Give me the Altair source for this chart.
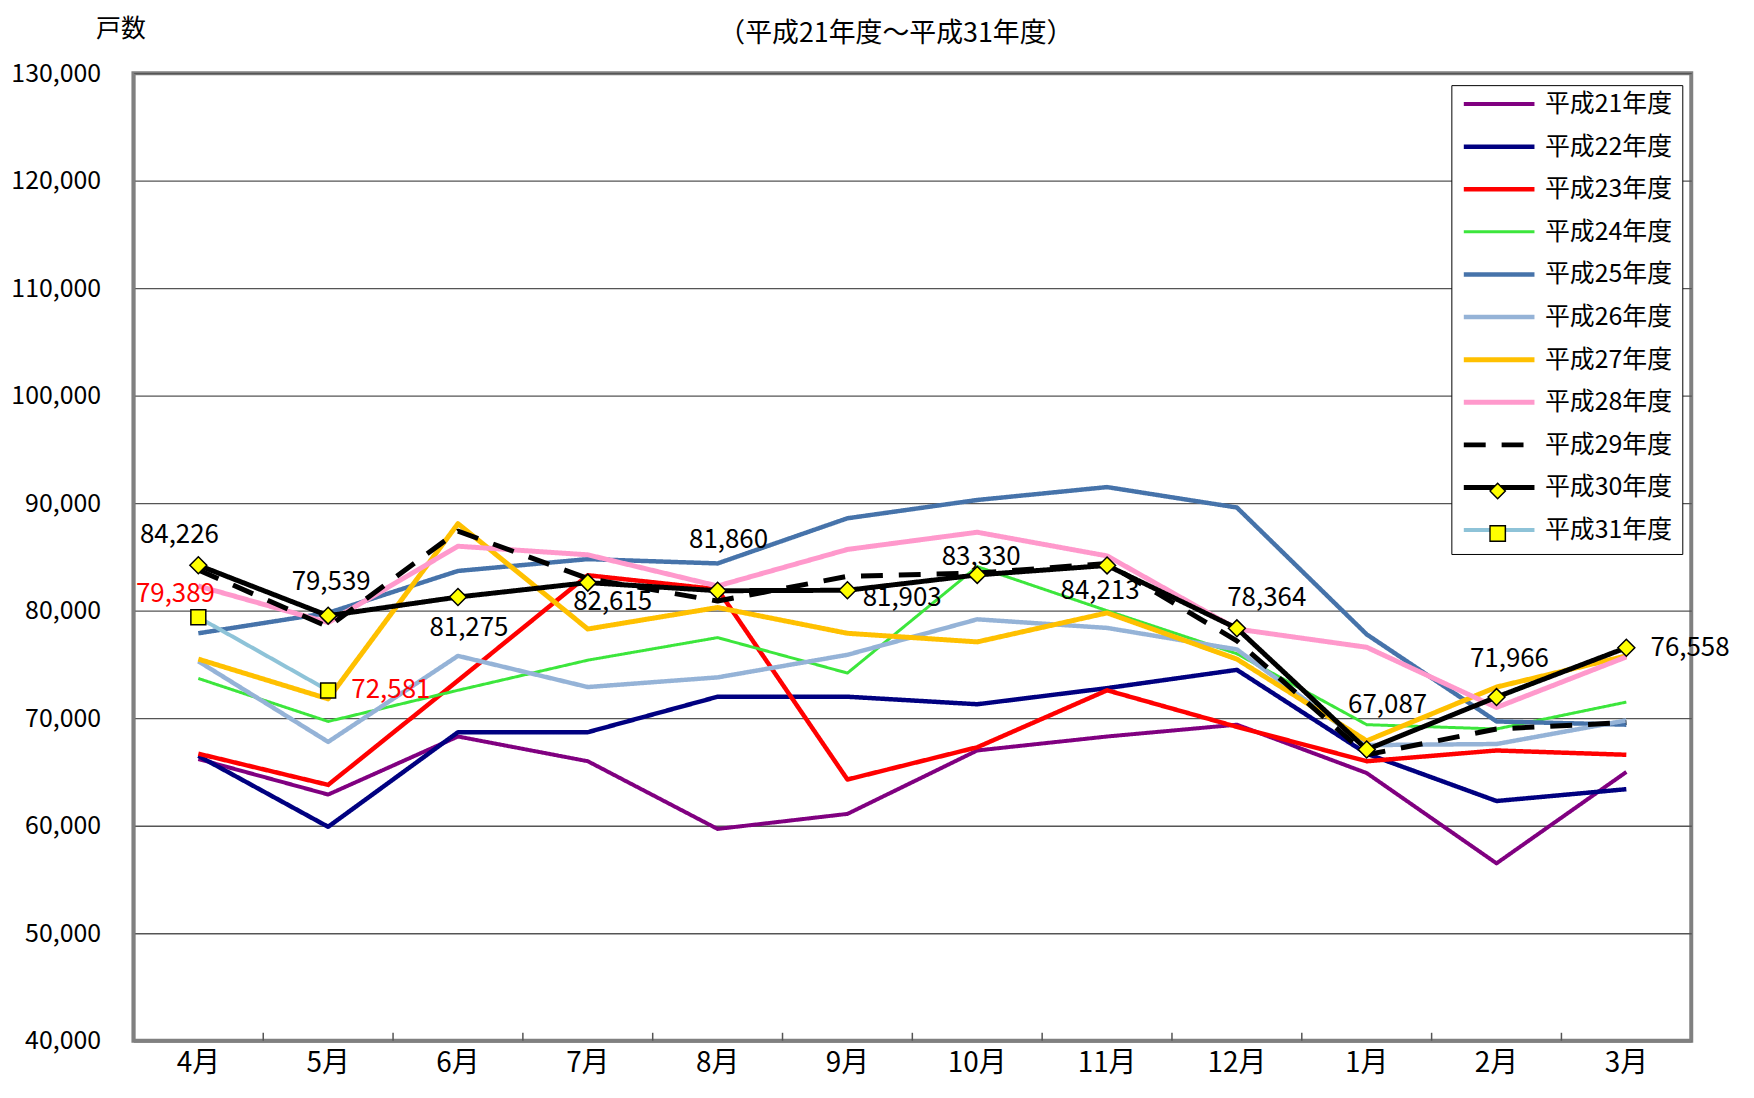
import altair as alt
import pandas as pd

FONT = "Noto Sans CJK JP"

months = ["4月", "5月", "6月", "7月", "8月", "9月", "10月", "11月", "12月", "1月", "2月", "3月"]
series_names = ["平成21年度", "平成22年度", "平成23年度", "平成24年度", "平成25年度", "平成26年度",
                "平成27年度", "平成28年度", "平成29年度", "平成30年度", "平成31年度"]
marker_series = ["平成30年度", "平成31年度"]

h21 = [66200, 62900, 68300, 66000, 59700, 61100, 67000, 68300, 69400, 64900, 56500, 65000]
h22 = [66500, 59900, 68700, 68700, 72000, 72000, 71300, 72800, 74500, 66700, 62300, 63400]
h23 = [66700, 63800, 73500, 83300, 82000, 64300, 67300, 72600, 69200, 66000, 67000, 66600]
h24 = [73700, 69700, 72600, 75400, 77500, 74200, 84100, 80000, 76000, 69400, 69000, 71500]
h25 = [77900, 79800, 83700, 84800, 84400, 88600, 90300, 91500, 89600, 77800, 69700, 69400]
h26 = [75300, 67800, 75800, 72900, 73800, 75900, 79200, 78400, 76400, 67500, 67600, 69800]
h27 = [75500, 71800, 88100, 78300, 80300, 77900, 77100, 79800, 75500, 67900, 72900, 75800]
h28 = [82300, 78900, 86000, 85200, 82300, 85700, 87300, 85100, 78300, 76600, 71000, 75700]
h29 = [83800, 78500, 87400, 83000, 80900, 83200, 83500, 84400, 77200, 66600, 69000, 69600]
h30 = [84226, 79539, 81275, 82615, 81860, 81903, 83330, 84213, 78364, 67087, 71966, 76558]
h31 = [79389, 72581]

all_values = [h21, h22, h23, h24, h25, h26, h27, h28, h29, h30, h31]

y_ticks = [40000, 50000, 60000, 70000, 80000, 90000, 100000, 110000, 120000, 130000]
subtitle = "（平成21年度～平成31年度）"
y_title = "戸数"

# styles
colors = ["#800080", "#000080", "#FF0000", "#3CE63C", "#4673AA", "#95B3D7",
          "#FFC000", "#FF99CC", "#000000", "#000000", "#8EC3D8"]
widths = [4, 4.5, 4.5, 3, 4.5, 4.5, 5, 5, 5, 5, 4]
dashes = [[1, 0]] * 8 + [[22, 16]] + [[1, 0]] * 2
marker_shapes = ["diamond", "square"]
marker_outline = ["#000000", "#000000"]

rows = []
for name, vals in zip(series_names, all_values):
    for m, v in zip(months, vals):
        rows.append({"month": m, "series": name, "value": v})
df = pd.DataFrame(rows)

W, H = 1565, 972

xenc = alt.X("month:N", sort=months,
             scale=alt.Scale(type="band", paddingInner=0, paddingOuter=0),
             axis=alt.Axis(title=None, labelFont=FONT, labelFontSize=28, labelColor="black",
                           labelPadding=23, labelAlign="center", bandPosition=0.5,
                           ticks=False, domain=True, domainColor="#808080",
                           domainWidth=3, grid=False, labelAngle=0))
yenc = alt.Y("value:Q",
             scale=alt.Scale(domain=[40000, 130000], nice=False, zero=False),
             axis=alt.Axis(values=y_ticks, format=",.0f", labelFont=FONT, labelFontSize=25,
                           labelColor="black", labelPadding=33, ticks=False, domain=True,
                           domainColor="#808080", domainWidth=3, grid=True, gridColor="#555555",
                           gridWidth=1.3, title=y_title, titleAngle=0, titleX=-13, titleY=-45,
                           titleAlign="center", titleBaseline="middle", titleFont=FONT,
                           titleFontSize=25, titleFontWeight="normal", titleColor="black"))

base = alt.Chart(df)

# inward tick marks at the month boundaries
ticks = alt.Chart(pd.DataFrame({"month": months[1:]})).mark_rule(
    color="#555555", strokeWidth=1.5).encode(
    x=alt.X("month:N", sort=months, bandPosition=0),
    y=alt.value(H - 8), y2=alt.value(H))

LX, LY, PAD, ROW = 1324, 12, 10, 42.8

lines = base.mark_line(strokeJoin="round").encode(
    x=xenc, y=yenc,
    color=alt.Color("series:N", scale=alt.Scale(domain=series_names, range=colors),
                    legend=alt.Legend(title=None, orient="none", legendX=LX, legendY=LY,
                                      direction="vertical", symbolType="stroke", symbolSize=5041,
                                      clipHeight=18, rowPadding=ROW - 25, labelFont=FONT,
                                      labelFontSize=25, labelColor="black", labelOffset=8,
                                      labelLimit=400, padding=PAD, strokeColor="black",
                                      fillColor="white")),
    strokeDash=alt.StrokeDash("series:N", scale=alt.Scale(domain=series_names, range=dashes)),
    strokeWidth=alt.StrokeWidth("series:N", scale=alt.Scale(type="ordinal", domain=series_names, range=widths)),
    order=alt.Order("series:N"),
)

shape_legend = alt.Legend(title=None, orient="none", legendX=LX + 28, legendY=LY + 9 * ROW + 3.5,
                          direction="vertical", clipHeight=18, rowPadding=ROW - 18,
                          labelFontSize=1, labelExpr="''", padding=PAD,
                          symbolSize=240, symbolFillColor="#FFFF00",
                          symbolStrokeWidth=1.5, symbolOpacity=1)

shape_enc = alt.Shape("series:N", scale=alt.Scale(domain=marker_series, range=marker_shapes),
                      legend=shape_legend)
stroke_enc = alt.Stroke("series:N", scale=alt.Scale(domain=marker_series, range=marker_outline),
                        legend=shape_legend)

pts30 = base.transform_filter(alt.datum.series == "平成30年度").mark_point(
    filled=True, fill="#FFFF00", strokeWidth=1.5, opacity=1, size=289).encode(
    x=xenc, y=yenc, shape=shape_enc, stroke=stroke_enc)
pts31 = base.transform_filter(alt.datum.series == "平成31年度").mark_point(
    filled=True, fill="#FFFF00", strokeWidth=1.5, opacity=1, size=225).encode(
    x=xenc, y=yenc, shape=shape_enc, stroke=stroke_enc)

# data label offsets (style)
offsets30 = {"4月": (-19, -30), "5月": (3, -34), "6月": (11, 31), "7月": (25, 20),
             "8月": (11, -51), "9月": (55, 8), "10月": (4, -18), "11月": (-7, 26),
             "12月": (30, -30), "1月": (21, -45), "2月": (13, -38), "3月": (64, 0)}
offsets31 = {"4月": (-23, -23), "5月": (63, 0)}

label_layers = []
for series, offs, col in [("平成30年度", offsets30, "black"), ("平成31年度", offsets31, "#FF0000")]:
    for m, (dx, dy) in offs.items():
        label_layers.append(
            base.transform_filter((alt.datum.series == series) & (alt.datum.month == m))
            .mark_text(dx=dx, dy=dy, font=FONT, fontSize=26, color=col,
                       align="center", baseline="middle")
            .encode(x=xenc, y=yenc, text=alt.Text("value:Q", format=",.0f"))
        )

sub = alt.Chart(pd.DataFrame({"t": [subtitle]})).mark_text(
    font=FONT, fontSize=27, color="black", align="center", baseline="middle").encode(
    text="t:N", x=alt.value(766), y=alt.value(-39))

chart = alt.layer(ticks, lines, pts30, pts31, *label_layers, sub).properties(
    width=W, height=H,
    autosize=alt.AutoSizeParams(type="none"),
    padding={"left": 126, "top": 63, "right": 55, "bottom": 50},
    background="white",
).configure_view(stroke="#808080", strokeWidth=4)

chart.save("out.html", embed_options={"renderer": "svg", "actions": False})
